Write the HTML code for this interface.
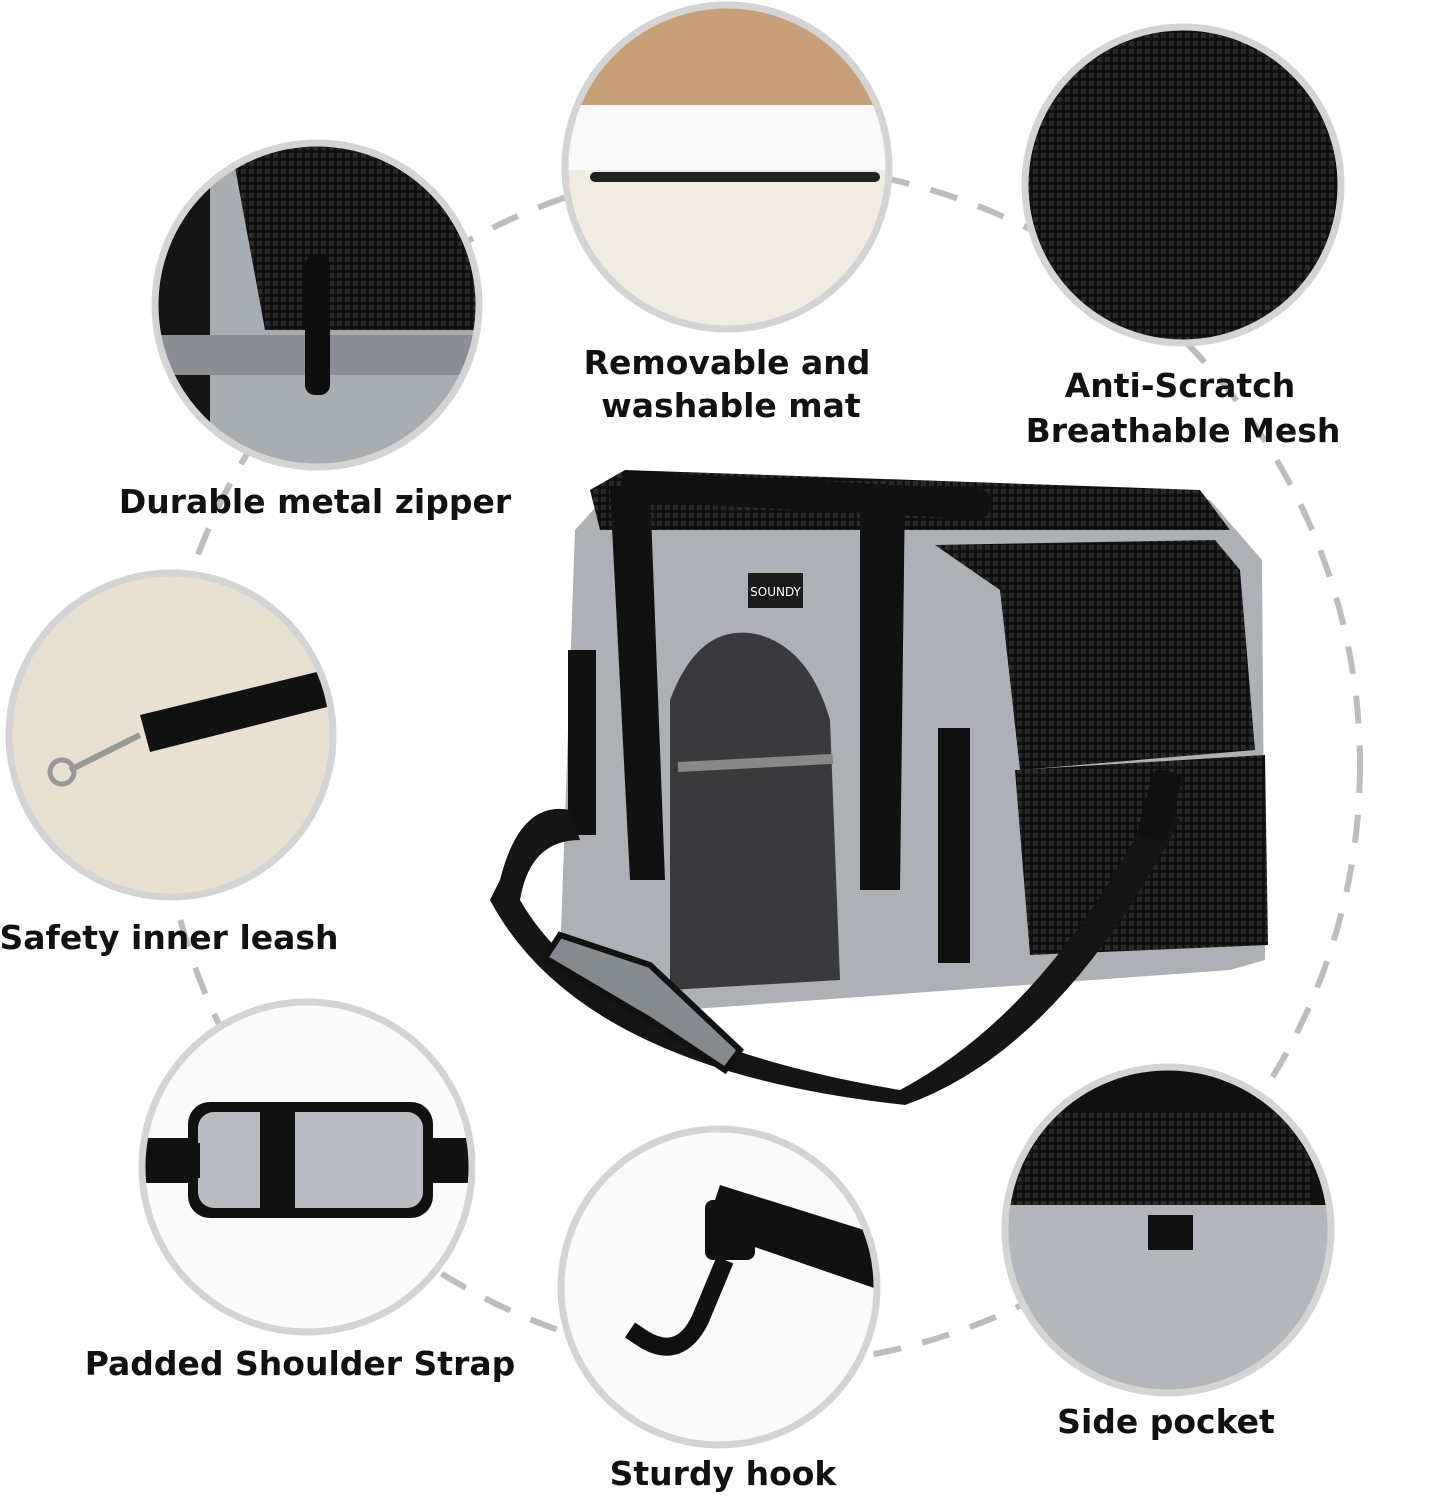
<!DOCTYPE html>
<html><head><meta charset="utf-8"><style>
html,body{margin:0;padding:0;background:#fff;}
svg{display:block}
text{font-family:"DejaVu Sans","Liberation Sans",sans-serif;font-weight:bold;fill:#111;}
</style></head><body>
<svg width="1435" height="1500" viewBox="0 0 1435 1500" xmlns="http://www.w3.org/2000/svg">
<defs>
<pattern id="mesh" width="8" height="8" patternUnits="userSpaceOnUse"><rect width="8" height="8" fill="#111"/><rect x="1" y="1" width="5" height="5" fill="#2a2a2a"/></pattern>
<clipPath id="c1"><circle cx="317" cy="305" r="162"/></clipPath>
<clipPath id="c2"><circle cx="727" cy="167" r="162"/></clipPath>
<clipPath id="c3"><circle cx="1183" cy="185" r="158"/></clipPath>
<clipPath id="c4"><circle cx="171" cy="735" r="162"/></clipPath>
<clipPath id="c5"><circle cx="307" cy="1167" r="165"/></clipPath>
<clipPath id="c6"><circle cx="719" cy="1287" r="158"/></clipPath>
<clipPath id="c7"><circle cx="1168" cy="1230" r="163"/></clipPath>
</defs>
<circle cx="760" cy="765" r="600" fill="none" stroke="#bdbdbd" stroke-width="6" stroke-dasharray="28 22"/>

<g clip-path="url(#c1)">
<rect x="150" y="140" width="340" height="340" fill="#a8adb2"/>
<rect x="150" y="140" width="60" height="340" fill="#151515"/>
<polygon points="230,140 490,140 490,330 265,330" fill="url(#mesh)"/>
<rect x="150" y="335" width="340" height="40" fill="#8b8f93"/>
<rect x="305" y="255" width="25" height="140" rx="10" fill="#0e0e0e"/>
</g>
<circle cx="317" cy="305" r="162" fill="none" stroke="#d4d4d4" stroke-width="7"/>

<g clip-path="url(#c2)">
<rect x="560" y="0" width="340" height="340" fill="#f1ece2"/>
<rect x="560" y="0" width="340" height="110" fill="#c8a078"/>
<rect x="560" y="105" width="340" height="65" fill="#f8f8f8"/>
<rect x="590" y="172" width="290" height="10" rx="5" fill="#222"/>
</g>
<circle cx="727" cy="167" r="162" fill="none" stroke="#d4d4d4" stroke-width="7"/>

<g clip-path="url(#c3)"><rect x="1020" y="25" width="330" height="330" fill="url(#mesh)"/></g>
<circle cx="1183" cy="185" r="158" fill="none" stroke="#d4d4d4" stroke-width="7"/>

<g clip-path="url(#c4)">
<rect x="5" y="570" width="335" height="335" fill="#e8e0d1"/>
<polygon points="140,715 325,670 335,705 150,752" fill="#111"/>
<line x1="70" y1="770" x2="140" y2="735" stroke="#999" stroke-width="6"/>
<circle cx="62" cy="772" r="12" fill="none" stroke="#999" stroke-width="5"/>
</g>
<circle cx="171" cy="735" r="162" fill="none" stroke="#d4d4d4" stroke-width="7"/>

<g clip-path="url(#c5)">
<rect x="140" y="1000" width="340" height="340" fill="#fafafa"/>
<rect x="140" y="1138" width="340" height="45" fill="#111"/>
<rect x="188" y="1102" width="245" height="116" rx="22" fill="#111"/>
<rect x="198" y="1112" width="225" height="96" rx="16" fill="#b9bdc1"/>
<rect x="140" y="1143" width="60" height="35" fill="#111"/>
<rect x="260" y="1112" width="35" height="96" fill="#111"/>
</g>
<circle cx="307" cy="1167" r="165" fill="none" stroke="#d4d4d4" stroke-width="7"/>

<g clip-path="url(#c6)">
<rect x="558" y="1125" width="325" height="325" fill="#fafafa"/>
<polygon points="720,1185 880,1235 880,1290 705,1230" fill="#111"/>
<rect x="705" y="1200" width="50" height="60" rx="8" fill="#111"/>
<path d="M725 1260 L700 1320 Q680 1360 645 1340 L630 1330" stroke="#111" stroke-width="18" fill="none"/>
</g>
<circle cx="719" cy="1287" r="158" fill="none" stroke="#d4d4d4" stroke-width="7"/>

<g clip-path="url(#c7)">
<rect x="1000" y="1065" width="340" height="340" fill="#b3b7bb"/>
<rect x="1000" y="1065" width="340" height="140" fill="#111"/>
<rect x="1010" y="1110" width="300" height="95" fill="url(#mesh)"/>
<rect x="1148" y="1215" width="45" height="35" fill="#111"/>
</g>
<circle cx="1168" cy="1230" r="163" fill="none" stroke="#d4d4d4" stroke-width="7"/>

<g>
<polygon points="575,530 620,480 1210,500 1262,560 1265,960 1230,970 680,1010 560,960" fill="#adb1b6"/>
<polygon points="590,490 625,470 1200,490 1230,530 600,530" fill="url(#mesh)"/>
<polygon points="935,545 1215,540 1240,570 1255,750 1020,770 1000,590" fill="url(#mesh)"/>
<polygon points="1015,770 1265,755 1268,945 1030,955" fill="url(#mesh)"/>
<path d="M670 990 L670 700 Q700 620 760 635 Q810 650 830 720 L840 980 Z" fill="#3a3a3c"/>
<rect x="678" y="758" width="155" height="10" fill="#888" transform="rotate(-3 755 763)"/>
<polygon points="610,488 650,488 665,880 630,880" fill="#111"/>
<polygon points="860,490 905,488 900,890 860,890" fill="#111"/>
<rect x="620" y="480" width="370" height="30" rx="10" fill="#111" transform="rotate(3 800 495)"/>
<rect x="568" y="650" width="28" height="185" fill="#111"/>
<rect x="938" y="728" width="32" height="235" fill="#111"/>
<rect x="748" y="573" width="55" height="35" fill="#1a1a1a"/>
<text x="775.5" y="596" font-size="12" text-anchor="middle" style="fill:#fff;font-weight:normal">SOUNDY</text>
<path d="M500 880 Q520 800 570 810 L580 840 Q530 840 520 900 Q600 1040 900 1090 Q1050 1010 1155 800 L1180 820 Q1060 1050 905 1105 Q580 1070 490 900 Z" fill="#151515"/>
<polygon points="545,958 560,935 650,965 740,1050 725,1070 650,1020" fill="#858a8f" stroke="#111" stroke-width="6"/>
<rect x="1145" y="770" width="30" height="70" rx="8" fill="#111" transform="rotate(15 1160 805)"/>
</g>

<text x="727" y="374" font-size="33" text-anchor="middle">Removable and</text>
<text x="731" y="417" font-size="33" text-anchor="middle">washable mat</text>
<text x="1180" y="397" font-size="33" text-anchor="middle">Anti-Scratch</text>
<text x="1183" y="442" font-size="33" text-anchor="middle">Breathable Mesh</text>
<text x="315" y="513" font-size="33" text-anchor="middle">Durable metal zipper</text>
<text x="169" y="949" font-size="33" text-anchor="middle">Safety inner leash</text>
<text x="300" y="1375" font-size="33" text-anchor="middle">Padded Shoulder Strap</text>
<text x="1166" y="1433" font-size="33" text-anchor="middle">Side pocket</text>
<text x="723" y="1485" font-size="33" text-anchor="middle">Sturdy hook</text>
</svg>
</body></html>
